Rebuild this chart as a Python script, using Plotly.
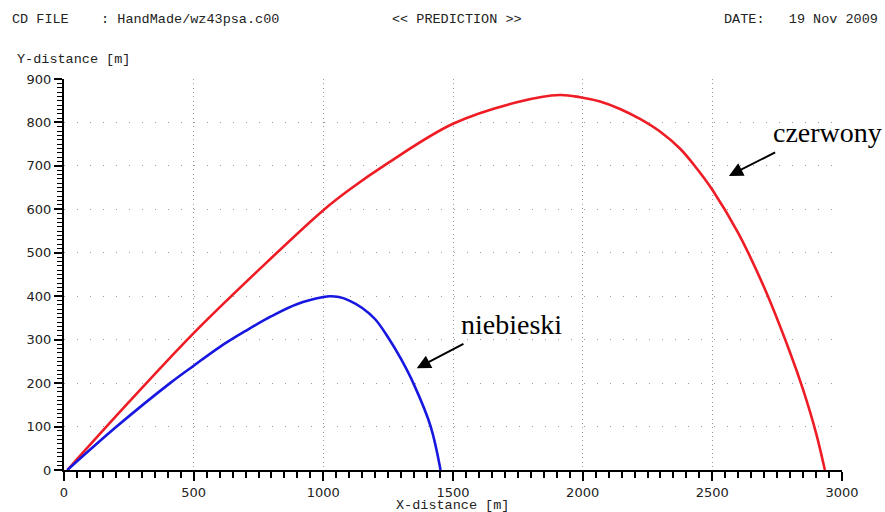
import plotly.graph_objects as go

# ---- data ----
red_x = [13, 250, 500, 750, 1000, 1100, 1250, 1500, 1750, 1912, 1990, 2067,
         2144, 2221, 2298, 2375, 2440, 2500, 2600, 2700, 2800, 2850, 2900, 2934]
red_y = [0, 156, 315, 460, 598, 645, 707, 797, 847, 863, 858, 848,
         831, 808, 779, 740, 694, 645, 545, 420, 270, 185, 85, 0]

blue_x = [13, 203, 409, 500, 600, 700, 800, 900, 1000, 1025, 1060, 1100, 1150, 1200,
          1250, 1300, 1350, 1414, 1452]
blue_y = [0, 100, 200, 240, 283, 320, 354, 382, 398, 400, 398, 390, 373, 347,
          305, 255, 196, 100, 0]

x_ticks = [0, 500, 1000, 1500, 2000, 2500, 3000]
y_ticks = [0, 100, 200, 300, 400, 500, 600, 700, 800, 900]

header_left = "CD FILE\u00a0\u00a0\u00a0\u00a0: HandMade/wz43psa.c00"
header_mid = "<< PREDICTION >>"
header_right = "DATE:\u00a0\u00a0\u00a019 Nov 2009"
label_red = "czerwony"
label_blue = "niebieski"

# ---- layout geometry (pixels) ----
W, H = 885, 512
L, R, T, B = 64, 43, 79, 42
PW, PH = W - L - R, H - T - B


def px(x):
    return (x - L) / PW


def py(y):
    return (H - B - y) / PH


fig = go.Figure()
fig.add_trace(go.Scatter(x=red_x, y=red_y, mode="lines",
                         line=dict(color="#ee1c25", width=2.6, shape="spline", smoothing=1.0),
                         showlegend=False))
fig.add_trace(go.Scatter(x=blue_x, y=blue_y, mode="lines",
                         line=dict(color="#1717e0", width=2.6, shape="spline", smoothing=1.0),
                         showlegend=False))

mono = dict(family="Liberation Mono", size=13.5, color="#222")
ann = []
ann.append(dict(text=header_left, xref="paper", yref="paper", x=px(10), y=py(20),
                xanchor="left", yanchor="middle", showarrow=False, font=mono))
ann.append(dict(text=header_mid, xref="paper", yref="paper", x=px(390), y=py(20),
                xanchor="left", yanchor="middle", showarrow=False, font=mono))
ann.append(dict(text=header_right, xref="paper", yref="paper", x=px(880), y=py(20),
                xanchor="right", yanchor="middle", showarrow=False, font=mono))
ann.append(dict(text="Y-distance [m]", xref="paper", yref="paper", x=px(15), y=py(60),
                xanchor="left", yanchor="middle", showarrow=False, font=mono))
ann.append(dict(text="X-distance [m]", xref="paper", yref="paper", x=px(452), y=py(505),
                xanchor="center", yanchor="middle", showarrow=False, font=mono))

serif = dict(family="Liberation Serif", size=28, color="black")
ann.append(dict(text=label_red, xref="paper", yref="paper", x=px(771), y=py(132),
                xanchor="left", yanchor="middle", showarrow=False, font=serif))
ann.append(dict(text=label_blue, xref="paper", yref="paper", x=px(459), y=py(324),
                xanchor="left", yanchor="middle", showarrow=False, font=serif))

# arrows (data coordinates)
ann.append(dict(text="", x=2564, y=677, ax=2748, ay=733, xref="x", yref="y",
                axref="x", ayref="y", showarrow=True, arrowhead=2, arrowsize=1.4,
                arrowwidth=2, arrowcolor="black"))
ann.append(dict(text="", x=1360, y=234, ax=1546, ay=292, xref="x", yref="y",
                axref="x", ayref="y", showarrow=True, arrowhead=2, arrowsize=1.4,
                arrowwidth=2, arrowcolor="black"))

tickfont = dict(family="DejaVu Sans", size=13, color="#222")
fig.update_layout(
    width=W, height=H,
    margin=dict(l=L, r=R, t=T, b=B),
    paper_bgcolor="white", plot_bgcolor="white",
    annotations=ann,
    xaxis=dict(range=[0, 3000], tickvals=x_ticks, ticks="outside", ticklen=9, tickwidth=1.5,
               tickcolor="black", showline=True, linecolor="black", linewidth=2,
               showgrid=True, gridcolor="#9a9a9a", gridwidth=1, griddash="1px,3.3px",
               zeroline=False, tickfont=tickfont,
               minor=dict(dtick=50, ticks="outside", ticklen=6, tickwidth=1.5,
                          tickcolor="black", showgrid=False)),
    yaxis=dict(range=[0, 900], tickvals=y_ticks, ticks="outside", ticklen=8, tickwidth=1.5,
               tickcolor="black", showline=True, linecolor="black", linewidth=2,
               showgrid=True, gridcolor="#9a9a9a", gridwidth=1, griddash="1px,12px",
               zeroline=False, tickfont=tickfont,
               minor=dict(dtick=10, ticks="outside", ticklen=5, tickwidth=1.2,
                          tickcolor="black", showgrid=False)),
)

fig.write_html("out.html")
